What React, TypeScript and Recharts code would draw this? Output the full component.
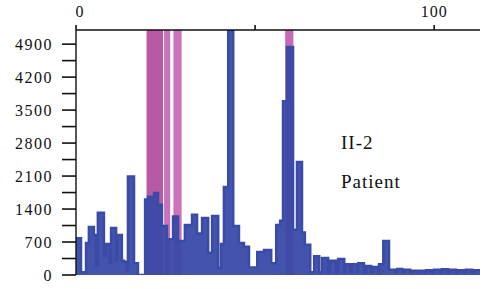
import { ComposedChart, Area, XAxis, YAxis, ReferenceArea } from "recharts";

// trace position (top axis units) and signal intensity
const positions = [
  0, 1.4, 2.8, 3.6, 5.0, 5.6, 6.1, 7.8, 8.4, 9.5, 9.8, 11.2, 11.5, 12.8, 13.4, 14.2, 14.5, 16.2, 17.3,
  19.3, 20.1, 21.8, 22.9, 24.0, 25.4, 27.1, 28.5, 30.4, 32.4, 33.8, 35.2, 36.9, 38.0, 39.7, 40.5, 41.3,
  42.5, 43.9, 45.5, 46.9, 48.3, 50.6, 52.5, 54.5, 55.9, 57.0, 57.8, 58.9, 60.6, 61.7, 63.1, 63.9, 65.4,
  66.5, 67.9, 68.7, 70.4, 70.9, 72.6, 73.2, 74.9, 75.1, 76.5, 77.1, 78.5, 78.8, 80.4, 81.0, 82.4, 83.0,
  84.4, 84.6, 85.8, 87.4, 89.1, 89.7, 91.1, 91.6, 93.3, 93.9, 95.3, 95.8, 97.2, 97.8, 99.4, 100.0,
  101.7, 102.2, 103.9, 104.5, 106.1, 106.7, 108.4, 108.9, 110.6, 111.2, 112.8,
];
const intensity = [
  780, 60, 680, 1020, 850, 200, 1320, 400, 660, 250, 1000, 300, 850, 300, 280, 100, 2090, 250, 0,
  1600, 1660, 1740, 1490, 1040, 760, 1240, 720, 1060, 1280, 880, 1210, 470, 1250, 150, 660, 1870,
  5250, 1040, 680, 600, 160, 490, 530, 250, 1060, 1150, 3690, 4840, 960, 2400, 900, 640, 60,
  400, 60, 360, 60, 300, 60, 340, 60, 230, 60, 230, 60, 250, 60, 190, 60, 170,
  60, 230, 720, 110, 60, 130, 60, 110, 60, 90, 60, 90, 60, 100, 60, 110,
  60, 120, 60, 110, 60, 100, 60, 110, 60, 100, 80,
];

// highlighted (pink) regions
const bandStart = [19.7, 24.6, 27.2, 58.4];
const bandEnd = [24.3, 26.3, 29.5, 60.7];
const bandTone = ["#b0479c", "#c263b2", "#c563b4", "#c05aae"];

const yTicks = [0, 350, 700, 1050, 1400, 1750, 2100, 2450, 2800, 3150, 3500, 3850, 4200, 4550, 4900];
const xTicks = [0, 50, 100];

const data = positions.map((x, i) => ({ x, y: intensity[i] }));

const serif = "'Liberation Serif', 'Times New Roman', serif";

function TopTick(props: any) {
  const { x, y, payload } = props;
  const v = payload.value;
  if (v === 50) return null;
  return (
    <text x={x + (v === 0 ? 4 : 0)} y={y} textAnchor="middle" fontFamily={serif} fontSize={16} fill="#111" letterSpacing={1}>
      {v}
    </text>
  );
}

export default function App() {
  return (
    <div style={{ position: "absolute", left: 0, top: 0, width: 490, height: 289, background: "#fff" }}>
      <ComposedChart width={490} height={289} data={data} margin={{ top: 8, right: 10, bottom: 14, left: 16 }}>
        <XAxis
          dataKey="x"
          type="number"
          orientation="top"
          domain={[0, 112.8]}
          ticks={xTicks}
          allowDataOverflow
          height={22}
          tickSize={5}
          tickMargin={8}
          tick={<TopTick />}
          axisLine={{ stroke: "#111", strokeWidth: 1.6 }}
          tickLine={{ stroke: "#111", strokeWidth: 1.6 }}
        />
        <YAxis
          type="number"
          domain={[0, 5200]}
          ticks={yTicks}
          allowDataOverflow
          width={60}
          tickSize={14}
          tickMargin={9}
          interval={0}
          tickFormatter={(v: number) => (v % 700 === 0 ? String(v) : "")}
          tick={{ fontFamily: serif, fontSize: 16, fill: "#111", letterSpacing: 1.5 }}
          axisLine={{ stroke: "#111", strokeWidth: 1.4 }}
          tickLine={{ stroke: "#111", strokeWidth: 1.6 }}
        />
        {bandStart.map((s, i) => (
          <ReferenceArea key={i} x1={s} x2={bandEnd[i]} y1={0} y2={5200} fill={bandTone[i]} fillOpacity={0.9} stroke="none" ifOverflow="hidden" />
        ))}
        <Area
          type="stepAfter"
          dataKey="y"
          baseValue={0}
          stroke="#3a4aa7"
          strokeWidth={2.5}
          fill="#3a4aa7"
          fillOpacity={0.95}
          dot={false}
          activeDot={false}
          isAnimationActive={false}
        />
      </ComposedChart>
      <svg width={490} height={289} style={{ position: "absolute", left: 0, top: 0, pointerEvents: "none" }}>
        <text x={341} y={149} fontFamily={serif} fontSize={19} letterSpacing={1} fill="#111">II-2</text>
        <text x={341} y={188} fontFamily={serif} fontSize={19} letterSpacing={1} fill="#111">Patient</text>
      </svg>
    </div>
  );
}
